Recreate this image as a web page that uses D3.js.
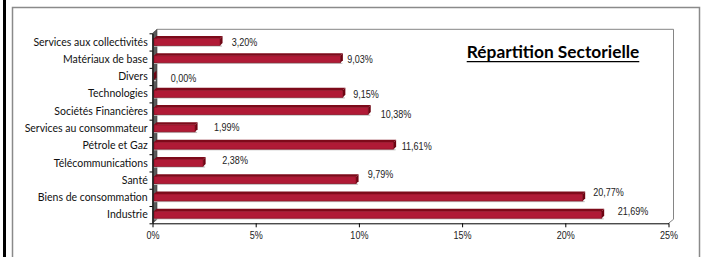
<!DOCTYPE html>
<html><head><meta charset="utf-8">
<script src="https://cdnjs.cloudflare.com/ajax/libs/d3/7.8.5/d3.min.js"></script>
<style>html,body{margin:0;padding:0;background:#fff;}svg{display:block;}</style>
</head><body>
<script>
const categories = ["Services aux collectivités","Matériaux de base","Divers","Technologies","Sociétés Financières","Services au consommateur","Pétrole et Gaz","Télécommunications","Santé","Biens de consommation","Industrie"];
const values = [3.20, 9.03, 0.00, 9.15, 10.38, 1.99, 11.61, 2.38, 9.79, 20.77, 21.69];
const xTicks = [0, 5, 10, 15, 20, 25];
const title = "Répartition Sectorielle";
// label nudges (layout only, mimic spreadsheet placement)
const labelDx = [11.7, 6.9, 16.7, 10.4, 12.5, 18.9, 8.1, 19.2, 11.6, 10.6, 16];
const labelDy = [0.4, 0.1, 1.8, 0.6, 3.3, -1, 0.5, -2.8, -6.1, -5.6, -3.9];

const W = 709, H = 257;
const svg = d3.select("body").append("svg").attr("width", W).attr("height", H);
const NUMFONT = "'Liberation Sans Narrow', 'Arial Narrow', sans-serif";

// frame
svg.append("rect").attr("x", 3).attr("y", 0).attr("width", 3).attr("height", H).attr("fill", "#000");
svg.append("path").attr("d", `M12.5,${H+5}V7.5H699.5V${H+5}`).attr("fill", "none").attr("stroke", "#8a8a8a").attr("stroke-width", 1.5);

const x = d3.scaleLinear().domain([0, 25]).range([152.5, 668.5]);
const yL = d3.scaleLinear().domain([0, categories.length]).range([33.3, 223.3]);
const y = d3.scaleBand().domain(categories).range([33.3, 223.3]);
const depth = 4.5, dRise = 4;
const x0 = x(0), xr = x(25), yb = yL(categories.length), yt = yL(0);

// plot area (back wall + floor outline)
svg.append("path")
  .attr("d", `M${x0+depth},${yt-dRise}H${xr+depth+0.5}V${yb-dRise}L${xr},${yb}`)
  .attr("fill", "none").attr("stroke", "#858585").attr("stroke-width", 1);
// left wall
svg.append("path")
  .attr("d", `M${x0},${yb}L${x0+depth},${yb-dRise}V${yt-dRise}L${x0},${yt}Z`)
  .attr("fill", "#5a5a5a").attr("stroke", "#3a3a3a").attr("stroke-width", 0.6);

// bars
const bd = 2.5, bh = 7;
const xb = v => x(v) + 1.5;
const g = svg.append("g");
categories.forEach((c, i) => {
  const v = values[i];
  const a = xb(0), b = xb(v);
  const top = y(c) + 5.2, bot = top + bh;
  g.append("rect").attr("x", a).attr("y", bot).attr("width", b - a + 2).attr("height", 1.2).attr("fill", "#c4c4c4");
  g.append("path").attr("d", `M${a},${top}L${b},${top}L${b+bd},${top-bd}L${a+bd},${top-bd}Z`).attr("fill", "#7d0a1a");
  g.append("rect").attr("x", a).attr("y", top).attr("width", b - a).attr("height", bh)
    .attr("fill", "#b01a36").attr("stroke", "#860b1e").attr("stroke-width", 0.7);
  g.append("path").attr("d", `M${b},${top}L${b+bd},${top-bd}L${b+bd},${bot-bd}L${b},${bot}Z`).attr("fill", "#6e0412");
});

// value labels
const fmt = v => d3.format(".2f")(v).replace(".", ",") + "%";
const valT = svg.append("g").selectAll("text").data(categories).join("text")
  .attr("x", (c, i) => xb(values[i]) + labelDx[i])
  .attr("y", (c, i) => y(c) + y.bandwidth() / 2 + labelDy[i])
  .attr("dy", "0.35em")
  .attr("font-family", NUMFONT).attr("font-size", 11)
  .attr("fill", "#222")
  .text((c, i) => fmt(values[i]));
// keep the number width close to the reference even if the narrow face is missing
const wv = valT.filter((c, i) => i === 0).node().getComputedTextLength();
const numScale = 25.6 / wv;

// y axis ticks (category boundaries)
svg.append("g").attr("transform", `translate(${x0},0)`)
  .call(d3.axisLeft(yL).tickValues(d3.range(categories.length + 1)).tickFormat("").tickSize(3).tickSizeOuter(0))
  .call(s => s.select(".domain").attr("stroke", "#000"))
  .call(s => s.selectAll(".tick line").attr("stroke", "#000"));

// category labels
const catT = svg.append("g").selectAll("text").data(categories).join("text")
  .attr("x", 147.7)
  .attr("y", c => y(c) + y.bandwidth() / 2)
  .attr("dy", "0.35em").attr("text-anchor", "end")
  .attr("font-family", "Lato, sans-serif").attr("font-size", 11).attr("fill", "#111")
  .text(c => c);
const wRef = catT.filter((c, i) => i === 0).node().getComputedTextLength();
catT.attr("font-size", 11 * 114.3 / wRef);

// x axis
svg.append("g").attr("transform", `translate(0,${yb})`)
  .call(d3.axisBottom(x).tickValues(xTicks).tickFormat(d => d + "%").tickSize(4).tickSizeOuter(0))
  .call(s => s.select(".domain").attr("stroke", "#000"))
  .call(s => s.selectAll(".tick line").attr("stroke", "#000"))
  .call(s => s.selectAll(".tick text").attr("font-family", NUMFONT).attr("font-size", 11).attr("fill", "#222").attr("dy", "0.85em").attr("y", 6));

if (Math.abs(numScale - 1) > 0.06) {
  valT.attr("textLength", function () { return this.getComputedTextLength() * numScale; }).attr("lengthAdjust", "spacingAndGlyphs");
  svg.selectAll(".tick text").attr("textLength", function () { return this.getComputedTextLength() * numScale; }).attr("lengthAdjust", "spacingAndGlyphs");
}

// title
const tt = svg.append("text").attr("x", 553).attr("y", 57.6).attr("text-anchor", "middle")
  .attr("font-family", "Lato, sans-serif").attr("font-weight", "bold").attr("font-size", 14).attr("fill", "#000")
  .text(title);
const tw = tt.node().getComputedTextLength();
tt.attr("font-size", 14 * 172.6 / tw);
const tb = tt.node().getBBox();
svg.append("line").attr("x1", tb.x).attr("x2", tb.x + tb.width).attr("y1", 61.6).attr("y2", 61.6)
  .attr("stroke", "#000").attr("stroke-width", 1.2);
</script>
</body></html>
